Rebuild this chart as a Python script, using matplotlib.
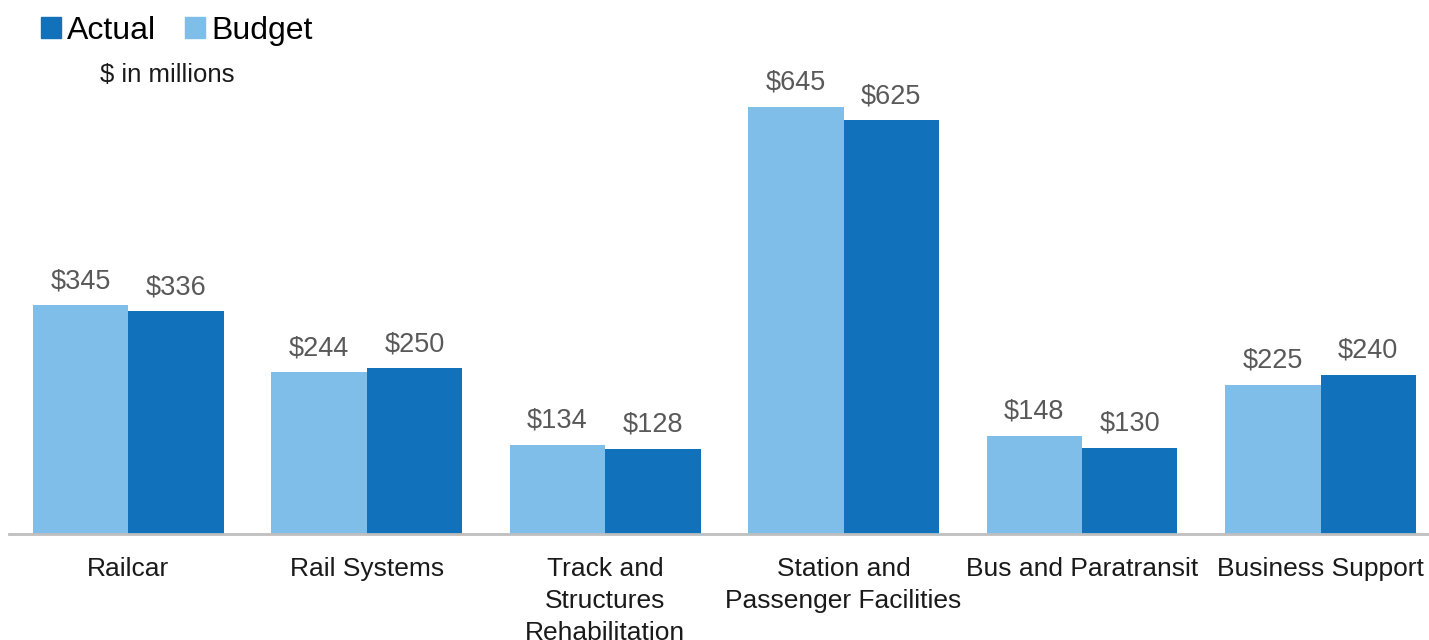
import numpy as np
import matplotlib.pyplot as plt
from matplotlib.patches import Patch

plt.rcParams['font.family'] = ['Liberation Sans', 'DejaVu Sans']

# Data ($ in millions)
categories = ['Railcar', 'Rail Systems', 'Track and\nStructures\nRehabilitation',
              'Station and\nPassenger Facilities', 'Bus and Paratransit', 'Business Support']
budget = [345, 244, 134, 645, 148, 225]
actual = [336, 250, 128, 625, 130, 240]

budget_color = '#7FBEE8'
actual_color = '#1172BB'
label_color = '#595959'

fig = plt.figure(figsize=(14.29, 6.4), dpi=100)
ax = fig.add_axes([9 / 1429, 1 - 533.5 / 640, 1420 / 1429, 533.5 / 640])

x = np.arange(len(categories))
w = 0.4
b1 = ax.bar(x - w / 2, budget, w, color=budget_color)
b2 = ax.bar(x + w / 2, actual, w, color=actual_color)

for bars, vals in [(b1, budget), (b2, actual)]:
    for bar, v in zip(bars, vals):
        ax.annotate(f'${v}', (bar.get_x() + bar.get_width() / 2, bar.get_height()),
                    xytext=(0, 8), textcoords='offset points', ha='center', va='bottom',
                    fontsize=19.5, color=label_color)

ax.set_xlim(-0.5, 5.455)
ax.set_ylim(0, 807)
ax.set_yticks([])
ax.set_xticks(x)
ax.set_xticklabels(categories, fontsize=19, color='#1a1a1a', linespacing=1.42)
ax.tick_params(axis='x', length=0, pad=17)
for s in ['top', 'right', 'left']:
    ax.spines[s].set_visible(False)
ax.spines['bottom'].set_color('#bfbfbf')
ax.spines['bottom'].set_linewidth(2)

handles = [Patch(color=actual_color), Patch(color=budget_color)]
fig.legend(handles, ['Actual', 'Budget'], loc='upper left', bbox_to_anchor=(0.013, 1.01),
           ncol=2, frameon=False, fontsize=23, handlelength=0.62, handleheight=0.62,
           handletextpad=0.2, columnspacing=0.9, borderaxespad=0.3)
fig.text(100 / 1429, 1 - 75 / 640, '$ in millions', fontsize=18.5, va='center', ha='left',
         color='#1a1a1a')

fig.savefig('out.png', dpi=100)
